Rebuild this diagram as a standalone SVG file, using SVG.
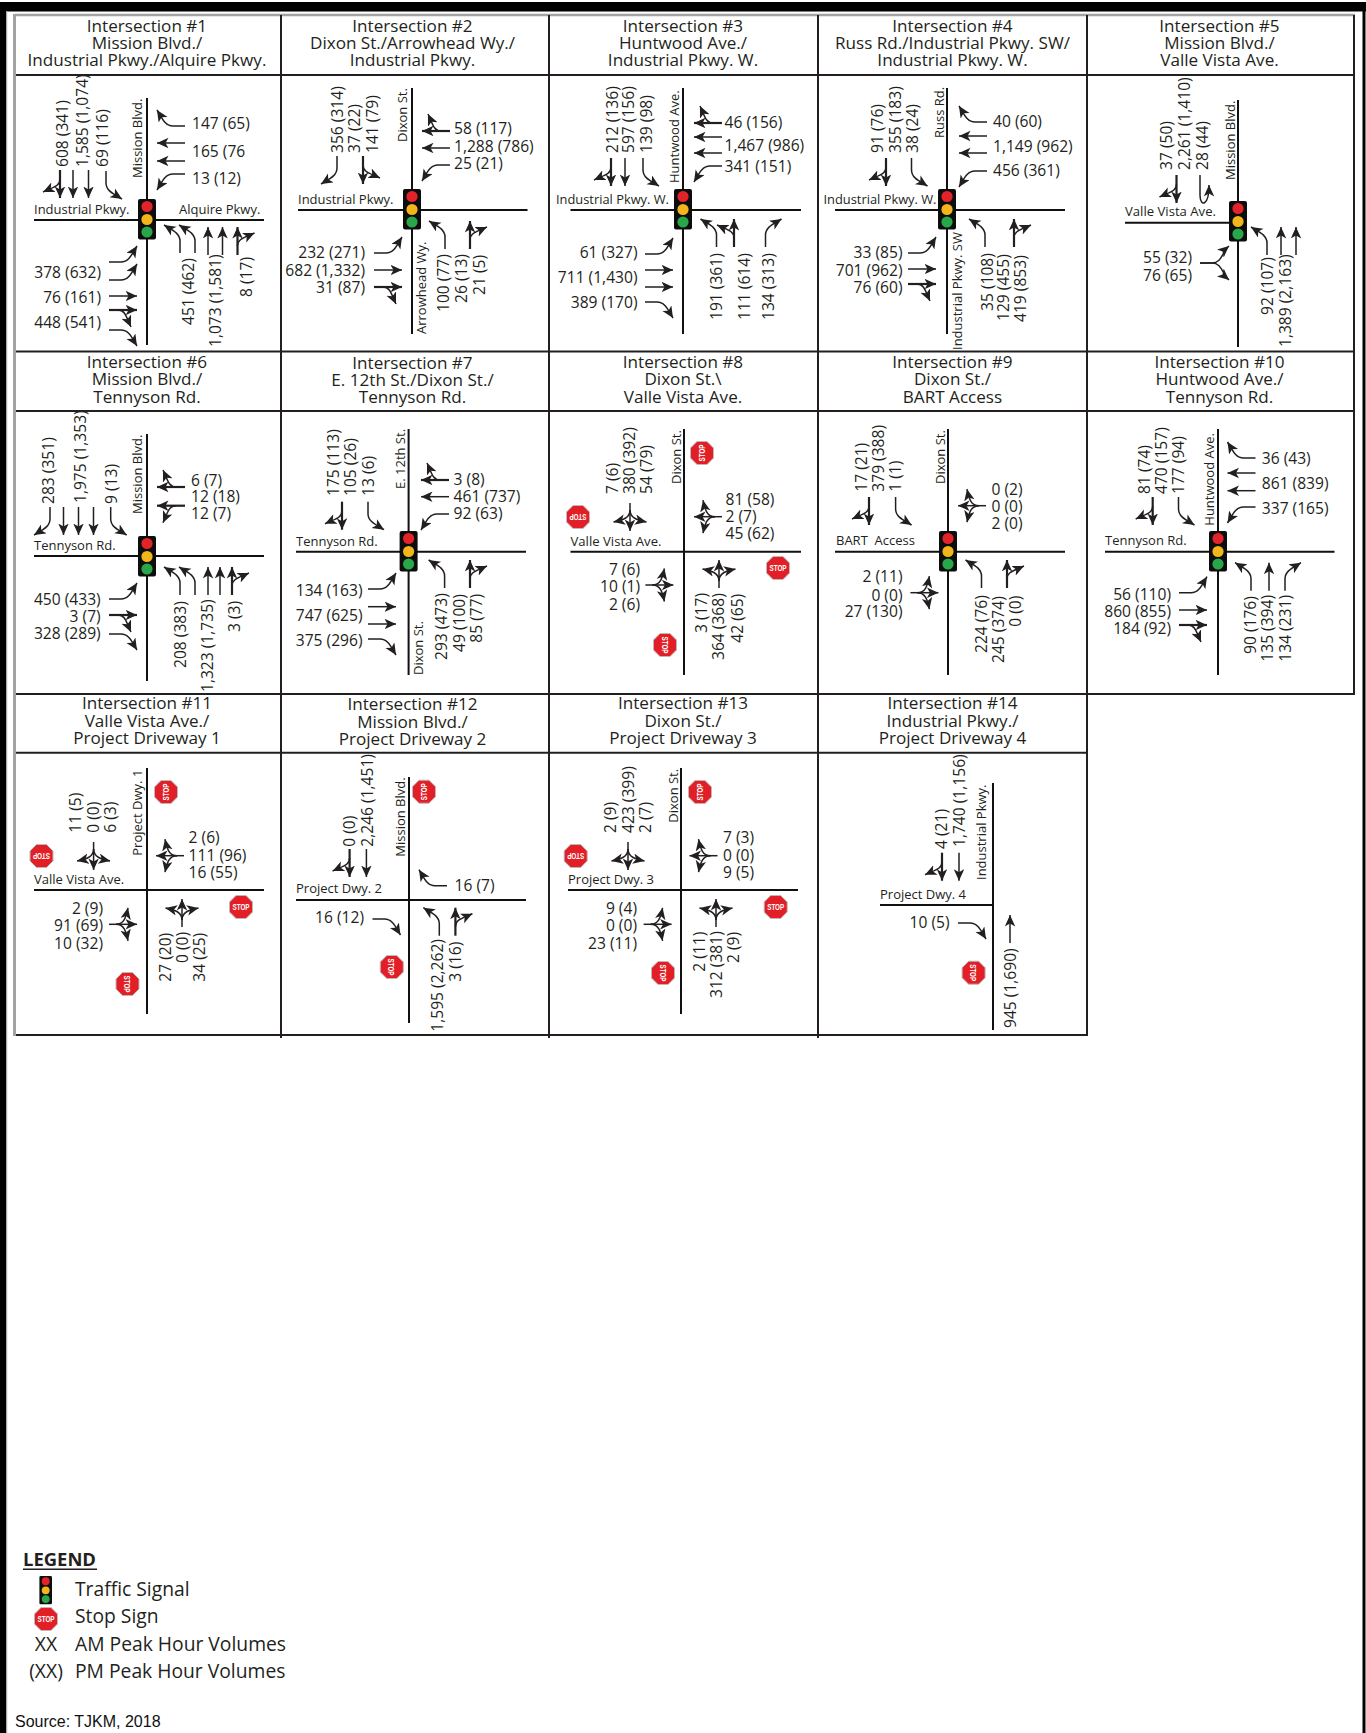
<svg xmlns="http://www.w3.org/2000/svg" width="1366" height="1733" viewBox="0 0 1366 1733">
<style>
text{font-family:"Open Sans","Noto Sans",sans-serif;fill:#231f20}
.h{font-size:17.1px;text-anchor:middle}
.n{font-size:15.6px}
.s{font-size:13px}
.e{text-anchor:end}
.m{text-anchor:middle}
.l{font-size:19.3px}
.grid{stroke:#231f20;stroke-width:2;fill:none}
.road{stroke:#111;stroke-width:2;fill:none}
defs path.a,g.ar path{fill:none;stroke:#231f20;stroke-width:1.5;marker-end:url(#h)}
path.b{stroke-width:2.2!important}
.st{font-family:"Liberation Sans Narrow","Liberation Sans",sans-serif;font-size:9px;font-weight:700;fill:#fff;text-anchor:middle}
</style>
<defs>
<marker id="h" markerUnits="userSpaceOnUse" markerWidth="14" markerHeight="14" refX="11.5" refY="5.25" orient="auto"><path d="M11.5,5.25L0,0L3,5.25L0,10.5Z" fill="#231f20"/></marker>
<path id="th" class="a" d="M0,0V-28"/>
<path id="lc" class="a" d="M0,0V-12C0,-20 -8,-23 -16,-28"/>
<path id="rc" class="a" d="M0,0V-12C0,-20 8,-23 16,-28"/>
<g id="tr"><path class="a b" d="M0,0V-28"/><path class="a" d="M0,-9C0,-16 6,-17 17,-22"/></g>
<g id="tl"><path class="a b" d="M0,0V-28"/><path class="a" d="M0,-9C0,-16 -6,-17 -17,-22"/></g>
<g id="x"><path class="a" d="M0,0V-28"/><path class="a" d="M0,-7C0,-15 -7,-17 -16.5,-19"/><path class="a" d="M0,-7C0,-15 7,-17 16.5,-19"/></g>
<g id="fk"><path class="a" d="M0,0V-12C0,-22 -11,-22 -17,-29"/><path class="a" d="M0,0V-12C0,-22 11,-22 17,-29"/></g>
<use id="thE" href="#th" transform="rotate(90)"/><use id="thS" href="#th" transform="rotate(180)"/><use id="thW" href="#th" transform="rotate(-90)"/>
<use id="lcE" href="#lc" transform="rotate(90)"/><use id="lcS" href="#lc" transform="rotate(180)"/><use id="lcW" href="#lc" transform="rotate(-90)"/>
<use id="rcE" href="#rc" transform="rotate(90)"/><use id="rcS" href="#rc" transform="rotate(180)"/><use id="rcW" href="#rc" transform="rotate(-90)"/>
<use id="trE" href="#tr" transform="rotate(90)"/><use id="trS" href="#tr" transform="rotate(180)"/><use id="trW" href="#tr" transform="rotate(-90)"/>
<use id="tlW" href="#tl" transform="rotate(-90)"/><use id="tlS" href="#tl" transform="rotate(180)"/>
<use id="xE" href="#x" transform="rotate(90)"/><use id="xS" href="#x" transform="rotate(180)"/><use id="xW" href="#x" transform="rotate(-90)"/>
<use id="fkE" href="#fk" transform="rotate(90)"/>
<g id="sig"><rect x="-9" y="-20" width="18" height="40.5" rx="2" fill="#0d0d0d"/><circle cy="-12.5" r="5.6" fill="#e2232a"/><circle cy="0.5" r="5.6" fill="#f2b51c"/><circle cy="13" r="5.6" fill="#2aa64a"/></g>
<g id="stop"><path d="M-5,-11.5H5L11.5,-5V5L5,11.5H-5L-11.5,5V-5Z" fill="#e21f26" stroke="#b9b9b9" stroke-width="1"/><text class="st" y="3.3" textLength="17" lengthAdjust="spacingAndGlyphs">STOP</text></g>
</defs>
<rect width="1366" height="1733" fill="#fff"/>
<g id="frame">
<rect x="0" y="2" width="1366" height="9.5" fill="#000"/>
<rect x="0" y="2" width="6" height="1731" fill="#000"/>
<rect x="1362.5" y="2" width="3" height="1731" fill="#000"/>
<rect x="6" y="11" width="1.2" height="1722" fill="#aaa"/>
</g>
<g id="grid">
<path d="M14.5,15H1355" stroke="#a3a3a3" stroke-width="2.4" fill="none"/>
<path d="M14.5,14V1036" stroke="#a3a3a3" stroke-width="3" fill="none"/>
<path class="grid" d="M1354,15V694M281,15V1038M549,15V1038M818,15V1038M1087,15V1036"/>
<path class="grid" d="M16,75H1354M16,351.5H1354M16,411H1354M16,694H1355M16,752.7H1087M16,1035H1088"/>
</g>
<g id="int1">
<text class="h"><tspan x="147" y="32">Intersection #1</tspan><tspan x="147" y="49">Mission Blvd./</tspan><tspan x="147" y="66">Industrial Pkwy./Alquire Pkwy.</tspan></text>
<path class="road" d="M147,98V345M34,220H264"/><use href="#sig" x="147" y="219"/>
<text class="s" transform="translate(142 178) rotate(-90)">Mission Blvd.</text>
<text class="s" x="34" y="214">Industrial Pkwy.</text><text class="s" x="179" y="214">Alquire Pkwy.</text>
<text class="n" transform="translate(68 167) rotate(-90)">608 (341)</text>
<text class="n" transform="translate(88 167) rotate(-90)">1,585 (1,074)</text>
<text class="n" transform="translate(107.5 167) rotate(-90)">69 (116)</text>
<text class="n" x="192" y="129">147 (65)</text><text class="n" x="192" y="157">165 (76</text><text class="n" x="192" y="184">13 (12)</text>
<text class="n e" x="101" y="278">378 (632)</text><text class="n e" x="101" y="303">76 (161)</text><text class="n e" x="101" y="328">448 (541)</text>
<text class="n" transform="translate(193.5 325) rotate(-90)">451 (462)</text>
<text class="n" transform="translate(221 347) rotate(-90)">1,073 (1,581)</text>
<text class="n" transform="translate(252 297) rotate(-90)">8 (17)</text>
</g>
<g id="int2">
<text class="h"><tspan x="412.5" y="32">Intersection #2</tspan><tspan x="412.5" y="49">Dixon St./Arrowhead Wy./</tspan><tspan x="412.5" y="66">Industrial Pkwy.</tspan></text>
<path class="road" d="M412,88V334M298,210H527.5"/><use href="#sig" x="412" y="209"/>
<text class="s" transform="translate(406.5 142) rotate(-90)">Dixon St.</text>
<text class="s" x="298" y="204">Industrial Pkwy.</text>
<text class="s" transform="translate(426 334) rotate(-90)">Arrowhead Wy.</text>
<text class="n" transform="translate(343 153) rotate(-90)">356 (314)</text>
<text class="n" transform="translate(360 153) rotate(-90)">37 (22)</text>
<text class="n" transform="translate(378 153) rotate(-90)">141 (79)</text>
<text class="n" x="454" y="134">58 (117)</text><text class="n" x="454" y="151.5">1,288 (786)</text><text class="n" x="454" y="169">25 (21)</text>
<text class="n e" x="365" y="258">232 (271)</text><text class="n e" x="365" y="276">682 (1,332)</text><text class="n e" x="365" y="293">31 (87)</text>
<text class="n" transform="translate(449 312) rotate(-90)">100 (77)</text>
<text class="n" transform="translate(467 303) rotate(-90)">26 (13)</text>
<text class="n" transform="translate(485 295) rotate(-90)">21 (5)</text>
</g>
<g id="int3">
<text class="h"><tspan x="683" y="32">Intersection #3</tspan><tspan x="683" y="49">Huntwood Ave./</tspan><tspan x="683" y="66">Industrial Pkwy. W.</tspan></text>
<path class="road" d="M683,88V334M570.5,210H801"/><use href="#sig" x="683" y="209"/>
<text class="s" transform="translate(679 183) rotate(-90)">Huntwood Ave.</text>
<text class="s" x="556" y="204" textLength="113" lengthAdjust="spacingAndGlyphs">Industrial Pkwy. W.</text>
<text class="n" transform="translate(617.5 153) rotate(-90)">212 (136)</text>
<text class="n" transform="translate(634 153) rotate(-90)">597 (156)</text>
<text class="n" transform="translate(652 153) rotate(-90)">139 (98)</text>
<text class="n" x="724.5" y="128">46 (156)</text><text class="n" x="724.5" y="151">1,467 (986)</text><text class="n" x="724.5" y="172">341 (151)</text>
<text class="n e" x="637.5" y="258">61 (327)</text><text class="n e" x="637.5" y="283">711 (1,430)</text><text class="n e" x="637.5" y="308">389 (170)</text>
<text class="n" transform="translate(722 320) rotate(-90)">191 (361)</text>
<text class="n" transform="translate(750 320) rotate(-90)">111 (614)</text>
<text class="n" transform="translate(773.5 320) rotate(-90)">134 (313)</text>
</g>
<g id="int4">
<text class="h"><tspan x="952.5" y="32">Intersection #4</tspan><tspan x="952.5" y="49">Russ Rd./Industrial Pkwy. SW/</tspan><tspan x="952.5" y="66">Industrial Pkwy. W.</tspan></text>
<path class="road" d="M947,88V334M835,210H1065"/><use href="#sig" x="947" y="209"/>
<text class="s" transform="translate(944 138) rotate(-90)">Russ Rd.</text>
<text class="s" x="823.5" y="204" textLength="113" lengthAdjust="spacingAndGlyphs">Industrial Pkwy. W.</text>
<text class="s" transform="translate(961.5 350) rotate(-90)">Industrial Pkwy. SW</text>
<text class="n" transform="translate(882.5 153) rotate(-90)">91 (76)</text>
<text class="n" transform="translate(901 153) rotate(-90)">355 (183)</text>
<text class="n" transform="translate(918 153) rotate(-90)">38 (24)</text>
<text class="n" x="993" y="127">40 (60)</text><text class="n" x="993" y="152">1,149 (962)</text><text class="n" x="993" y="176">456 (361)</text>
<text class="n e" x="902.5" y="258">33 (85)</text><text class="n e" x="902.5" y="276">701 (962)</text><text class="n e" x="902.5" y="293">76 (60)</text>
<text class="n" transform="translate(993 311) rotate(-90)">35 (108)</text>
<text class="n" transform="translate(1009 321) rotate(-90)">129 (455)</text>
<text class="n" transform="translate(1026 322) rotate(-90)">419 (853)</text>
</g>
<g id="int5">
<text class="h"><tspan x="1219.5" y="32">Intersection #5</tspan><tspan x="1219.5" y="49">Mission Blvd./</tspan><tspan x="1219.5" y="66">Valle Vista Ave.</tspan></text>
<path class="road" d="M1238,100V347M1125,222.7H1238"/><use href="#sig" x="1238" y="221"/>
<text class="s" transform="translate(1235 180) rotate(-90)">Mission Blvd.</text>
<text class="s" x="1125" y="216" textLength="91" lengthAdjust="spacingAndGlyphs">Valle Vista Ave.</text>
<text class="n" transform="translate(1172 170) rotate(-90)">37 (50)</text>
<text class="n" transform="translate(1189.5 170) rotate(-90)">2,261 (1,410)</text>
<text class="n" transform="translate(1207.5 170) rotate(-90)">28 (44)</text>
<text class="n e" x="1192" y="263">55 (32)</text><text class="n e" x="1192" y="280.5">76 (65)</text>
<text class="n" transform="translate(1273 315) rotate(-90)">92 (107)</text>
<text class="n" transform="translate(1291 347) rotate(-90)">1,389 (2,163)</text>
</g>
<g id="int6">
<text class="h"><tspan x="147" y="368">Intersection #6</tspan><tspan x="147" y="385">Mission Blvd./</tspan><tspan x="147" y="403">Tennyson Rd.</tspan></text>
<path class="road" d="M147,434V681M34,556H264"/><use href="#sig" x="147" y="556"/>
<text class="s" transform="translate(142 514) rotate(-90)">Mission Blvd.</text>
<text class="s" x="34" y="550">Tennyson Rd.</text>
<text class="n" transform="translate(53.5 504) rotate(-90)">283 (351)</text>
<text class="n" transform="translate(86 503) rotate(-90)">1,975 (1,353)</text>
<text class="n" transform="translate(117 504) rotate(-90)">9 (13)</text>
<text class="n" x="191" y="485.7">6 (7)</text><text class="n" x="191" y="502.3">12 (18)</text><text class="n" x="191" y="519.3">12 (7)</text>
<text class="n e" x="100.7" y="604.7">450 (433)</text><text class="n e" x="100.7" y="621.7">3 (7)</text><text class="n e" x="100.7" y="639">328 (289)</text>
<text class="n" transform="translate(186 668) rotate(-90)">208 (383)</text>
<text class="n" transform="translate(213 692) rotate(-90)">1,323 (1,735)</text>
<text class="n" transform="translate(240 632) rotate(-90)">3 (3)</text>
</g>
<g id="int7">
<text class="h"><tspan x="412.5" y="369">Intersection #7</tspan><tspan x="412.5" y="386">E. 12th St./Dixon St./</tspan><tspan x="412.5" y="403">Tennyson Rd.</tspan></text>
<path class="road" d="M408.6,429V675M296,551.7H526"/><use href="#sig" x="408.6" y="551"/>
<text class="s" transform="translate(404.6 489) rotate(-90)">E. 12th St.</text>
<text class="s" x="296" y="545.7">Tennyson Rd.</text>
<text class="s" transform="translate(422.5 675) rotate(-90)">Dixon St.</text>
<text class="n" transform="translate(338.6 496) rotate(-90)">175 (113)</text>
<text class="n" transform="translate(356.4 496) rotate(-90)">105 (26)</text>
<text class="n" transform="translate(374 496) rotate(-90)">13 (6)</text>
<text class="n" x="453.6" y="485">3 (8)</text><text class="n" x="453.6" y="502.3">461 (737)</text><text class="n" x="453.6" y="519">92 (63)</text>
<text class="n e" x="362.5" y="595.7">134 (163)</text><text class="n e" x="362.5" y="621">747 (625)</text><text class="n e" x="362.5" y="646">375 (296)</text>
<text class="n" transform="translate(447 660) rotate(-90)">293 (473)</text>
<text class="n" transform="translate(465 652) rotate(-90)">49 (100)</text>
<text class="n" transform="translate(482 642.7) rotate(-90)">85 (77)</text>
</g>
<g id="int8">
<text class="h"><tspan x="683" y="368">Intersection #8</tspan><tspan x="683" y="385">Dixon St.\</tspan><tspan x="683" y="403">Valle Vista Ave.</tspan></text>
<path class="road" d="M684,429V675M570.5,551.7H801"/>
<use href="#stop" transform="translate(702 453) rotate(-90)"/><use href="#stop" transform="translate(578 517) rotate(180)"/><use href="#stop" transform="translate(778 568)"/><use href="#stop" transform="translate(665 645) rotate(90)"/>
<text class="s" transform="translate(680.7 484) rotate(-90)">Dixon St.</text>
<text class="s" x="570.5" y="545.7" textLength="91" lengthAdjust="spacingAndGlyphs">Valle Vista Ave.</text>
<text class="n" transform="translate(617.5 494) rotate(-90)">7 (6)</text>
<text class="n" transform="translate(635 494) rotate(-90)">380 (392)</text>
<text class="n" transform="translate(652 494) rotate(-90)">54 (79)</text>
<text class="n" x="725.5" y="505">81 (58)</text><text class="n" x="725.5" y="522">2 (7)</text><text class="n" x="725.5" y="539">45 (62)</text>
<text class="n e" x="640" y="575">7 (6)</text><text class="n e" x="640" y="592">10 (1)</text><text class="n e" x="640" y="610">2 (6)</text>
<text class="n" transform="translate(707 633) rotate(-90)">3 (17)</text>
<text class="n" transform="translate(724.4 660) rotate(-90)">364 (368)</text>
<text class="n" transform="translate(743 642.7) rotate(-90)">42 (65)</text>
</g>
<g id="int9">
<text class="h"><tspan x="952.5" y="368">Intersection #9</tspan><tspan x="952.5" y="385">Dixon St./</tspan><tspan x="952.5" y="403">BART Access</tspan></text>
<path class="road" d="M948,429V675M835,551.7H1065"/><use href="#sig" x="948" y="551"/>
<text class="s" transform="translate(944.6 484) rotate(-90)">Dixon St.</text>
<text class="s" x="836" y="545" xml:space="preserve">BART  Access</text>
<text class="n" transform="translate(866.6 491.7) rotate(-90)">17 (21)</text>
<text class="n" transform="translate(883.5 491.7) rotate(-90)">379 (388)</text>
<text class="n" transform="translate(901 491.7) rotate(-90)">1 (1)</text>
<text class="n" x="991.5" y="495">0 (2)</text><text class="n" x="991.5" y="512.3">0 (0)</text><text class="n" x="991.5" y="529">2 (0)</text>
<text class="n e" x="902.5" y="582">2 (11)</text><text class="n e" x="902.5" y="600.7">0 (0)</text><text class="n e" x="902.5" y="617">27 (130)</text>
<text class="n" transform="translate(986.8 653) rotate(-90)">224 (76)</text>
<text class="n" transform="translate(1003.6 663) rotate(-90)">245 (374)</text>
<text class="n" transform="translate(1021 626.7) rotate(-90)">0 (0)</text>
</g>
<g id="int10">
<text class="h"><tspan x="1219.5" y="368">Intersection #10</tspan><tspan x="1219.5" y="385">Huntwood Ave./</tspan><tspan x="1219.5" y="403">Tennyson Rd.</tspan></text>
<path class="road" d="M1218,429V675M1105,551.7H1334.5"/><use href="#sig" x="1218" y="551"/>
<text class="s" transform="translate(1214.4 525.7) rotate(-90)">Huntwood Ave.</text>
<text class="s" x="1105" y="545">Tennyson Rd.</text>
<text class="n" transform="translate(1150 494) rotate(-90)">81 (74)</text>
<text class="n" transform="translate(1167 494) rotate(-90)">470 (157)</text>
<text class="n" transform="translate(1184 494) rotate(-90)">177 (94)</text>
<text class="n" x="1261.8" y="464">36 (43)</text><text class="n" x="1261.8" y="489">861 (839)</text><text class="n" x="1261.8" y="514">337 (165)</text>
<text class="n e" x="1171" y="600">56 (110)</text><text class="n e" x="1171" y="617">860 (855)</text><text class="n e" x="1171" y="634">184 (92)</text>
<text class="n" transform="translate(1255.5 654) rotate(-90)">90 (176)</text>
<text class="n" transform="translate(1273.4 661.7) rotate(-90)">135 (394)</text>
<text class="n" transform="translate(1290.8 661.7) rotate(-90)">134 (231)</text>
</g>
<g id="int11">
<text class="h"><tspan x="147" y="709">Intersection #11</tspan><tspan x="147" y="727">Valle Vista Ave./</tspan><tspan x="147" y="744">Project Driveway 1</tspan></text>
<path class="road" d="M147,768V1014M34,890H264"/>
<use href="#stop" transform="translate(166 792) rotate(-90)"/><use href="#stop" transform="translate(41.5 856) rotate(180)"/><use href="#stop" transform="translate(241 907)"/><use href="#stop" transform="translate(127.5 984) rotate(90)"/>
<text class="s" transform="translate(142 855.7) rotate(-90)">Project Dwy. 1</text>
<text class="s" x="34" y="884">Valle Vista Ave.</text>
<text class="n" transform="translate(81.4 832.7) rotate(-90)">11 (5)</text>
<text class="n" transform="translate(99 832.7) rotate(-90)">0 (0)</text>
<text class="n" transform="translate(116.4 832.7) rotate(-90)">6 (3)</text>
<text class="n" x="188.6" y="843">2 (6)</text><text class="n" x="188.6" y="861">111 (96)</text><text class="n" x="188.6" y="878">16 (55)</text>
<text class="n e" x="103" y="914">2 (9)</text><text class="n e" x="103" y="931.3">91 (69)</text><text class="n e" x="103" y="949">10 (32)</text>
<text class="n" transform="translate(170.7 981.7) rotate(-90)">27 (20)</text>
<text class="n" transform="translate(188 963) rotate(-90)">0 (0)</text>
<text class="n" transform="translate(205 981.7) rotate(-90)">34 (25)</text>
</g>
<g id="int12">
<text class="h"><tspan x="412.5" y="710">Intersection #12</tspan><tspan x="412.5" y="728">Mission Blvd./</tspan><tspan x="412.5" y="745">Project Driveway 2</tspan></text>
<path class="road" d="M409,777V1023M296,900H526"/>
<use href="#stop" transform="translate(424 791.7) rotate(-90)"/><use href="#stop" transform="translate(391.8 967) rotate(90)"/>
<text class="s" transform="translate(405 856.7) rotate(-90)">Mission Blvd.</text>
<text class="s" x="296" y="893.3">Project Dwy. 2</text>
<text class="n" transform="translate(355.4 846.7) rotate(-90)">0 (0)</text>
<text class="n" transform="translate(372.5 846.7) rotate(-90)">2,246 (1,451)</text>
<text class="n" x="454.6" y="890.7">16 (7)</text>
<text class="n e" x="364" y="923">16 (12)</text>
<text class="n" transform="translate(443 1031.7) rotate(-90)">1,595 (2,262)</text>
<text class="n" transform="translate(460.7 981.7) rotate(-90)">3 (16)</text>
</g>
<g id="int13">
<text class="h"><tspan x="683" y="709">Intersection #13</tspan><tspan x="683" y="727">Dixon St./</tspan><tspan x="683" y="744">Project Driveway 3</tspan></text>
<path class="road" d="M681,768V1014M568,890H798"/>
<use href="#stop" transform="translate(700 792) rotate(-90)"/><use href="#stop" transform="translate(575.7 856) rotate(180)"/><use href="#stop" transform="translate(775.7 907)"/><use href="#stop" transform="translate(663 973) rotate(90)"/>
<text class="s" transform="translate(677.5 822.7) rotate(-90)">Dixon St.</text>
<text class="s" x="568" y="884">Project Dwy. 3</text>
<text class="n" transform="translate(616.4 833) rotate(-90)">2 (9)</text>
<text class="n" transform="translate(633.6 833) rotate(-90)">423 (399)</text>
<text class="n" transform="translate(650.7 833) rotate(-90)">2 (7)</text>
<text class="n" x="723" y="843">7 (3)</text><text class="n" x="723" y="861">0 (0)</text><text class="n" x="723" y="878">9 (5)</text>
<text class="n e" x="637" y="914">9 (4)</text><text class="n e" x="637" y="931.3">0 (0)</text><text class="n e" x="637" y="949">23 (11)</text>
<text class="n" transform="translate(705 971.7) rotate(-90)">2 (11)</text>
<text class="n" transform="translate(722 998) rotate(-90)">312 (381)</text>
<text class="n" transform="translate(739 963) rotate(-90)">2 (9)</text>
</g>
<g id="int14">
<text class="h"><tspan x="952.5" y="709">Intersection #14</tspan><tspan x="952.5" y="727">Industrial Pkwy./</tspan><tspan x="952.5" y="744">Project Driveway 4</tspan></text>
<path class="road" d="M993,783V1030M880,905H993"/>
<use href="#stop" transform="translate(973.6 972.7) rotate(90)"/>
<text class="s" transform="translate(986.4 880) rotate(-90)">Industrial Pkwy.</text>
<text class="s" x="880" y="899.3">Project Dwy. 4</text>
<text class="n" transform="translate(947 849) rotate(-90)">4 (21)</text>
<text class="n" transform="translate(965 847) rotate(-90)">1,740 (1,156)</text>
<text class="n e" x="949.6" y="928">10 (5)</text>
<text class="n" transform="translate(1015.7 1028) rotate(-90)">945 (1,690)</text>
</g>
<g id="connectors" class="ar">
<g id="arrows1"><use href="#trS" x="60" y="170"/><use href="#thS" x="73" y="170"/><use href="#thS" x="88.5" y="170"/><use href="#lcS" x="106" y="171"/>
<use href="#rcW" x="185" y="126"/><use href="#thW" x="185" y="143"/><use href="#thW" x="185" y="161"/><use href="#lcW" x="185" y="174"/>
<use href="#lcE" x="109" y="262"/><use href="#lcE" x="109" y="280"/><use href="#thE" x="109" y="296"/><use href="#trE" x="109" y="310"/><use href="#rcE" x="109" y="330"/>
<use href="#lc" x="180" y="253"/><use href="#lc" x="195" y="253"/><use href="#th" x="208" y="255"/><use href="#th" x="222.5" y="255"/><use href="#tr" x="237.5" y="255"/></g>
<g id="arrows2"><use href="#rcS" x="337" y="156"/><use href="#tlS" x="363" y="156"/>
<use href="#trW" x="450" y="131"/><use href="#thW" x="450" y="148"/><use href="#lcW" x="450" y="165"/>
<use href="#lcE" x="374" y="253"/><use href="#thE" x="374" y="270"/><use href="#trE" x="374" y="287"/>
<use href="#lc" x="445" y="249"/><use href="#tr" x="470" y="249"/></g>
<g id="arrows3"><use href="#trS" x="611" y="158"/><use href="#thS" x="625" y="158"/><use href="#lcS" x="643" y="158"/>
<use href="#trW" x="722" y="123"/><use href="#thW" x="722" y="137"/><use href="#thW" x="722" y="153"/><use href="#lcW" x="722" y="166"/>
<use href="#lcE" x="645" y="254"/><use href="#thE" x="645" y="270"/><use href="#thE" x="645" y="287"/><use href="#rcE" x="645" y="302"/>
<use href="#lc" x="716.5" y="247"/><use href="#tl" x="734" y="247"/><use href="#rc" x="765.5" y="247"/></g>
<g id="arrows4"><use href="#trS" x="886" y="158"/><use href="#lcS" x="911.5" y="158"/>
<use href="#rcW" x="987" y="122"/><use href="#thW" x="987" y="136"/><use href="#thW" x="987" y="153"/><use href="#lcW" x="987" y="171"/>
<use href="#lcE" x="908" y="253"/><use href="#thE" x="908" y="269"/><use href="#trE" x="908" y="284"/>
<use href="#lc" x="985" y="247"/><use href="#tr" x="1014" y="247"/></g>
<g id="arrows5"><use href="#trS" x="1176.5" y="175"/><path d="M1200,175V195C1200,207 1209,207 1209,185"/>
<use href="#fkE" x="1200" y="263"/>
<use href="#lc" x="1267" y="255"/><use href="#th" x="1281" y="255"/><use href="#th" x="1296" y="255"/></g>
<g id="arrows6"><use href="#rcS" x="50" y="507"/><use href="#thS" x="63.5" y="507"/><use href="#thS" x="78.5" y="507"/><use href="#thS" x="93.5" y="507"/><use href="#lcS" x="110.7" y="507"/>
<use href="#trW" x="185" y="487"/><use href="#tlW" x="185" y="505.7"/>
<use href="#lcE" x="109" y="599"/><use href="#trE" x="109" y="615"/><use href="#rcE" x="109" y="634"/>
<use href="#lc" x="180" y="595"/><use href="#lc" x="195" y="595"/><use href="#th" x="208" y="595"/><use href="#th" x="220" y="595"/><use href="#tr" x="232" y="595"/></g>
<g id="arrows7"><use href="#trS" x="342" y="501.7"/><use href="#lcS" x="368" y="501.7"/>
<use href="#trW" x="449" y="480"/><use href="#thW" x="449" y="496.7"/><use href="#lcW" x="449" y="514"/>
<use href="#lcE" x="368" y="589"/><use href="#thE" x="368" y="606.7"/><use href="#thE" x="368" y="624"/><use href="#rcE" x="368" y="639"/>
<use href="#lc" x="444.6" y="588"/><use href="#tr" x="470" y="588"/></g>
<g id="arrows8"><use href="#xS" x="630" y="503"/><use href="#xW" x="722" y="516.7"/><use href="#xE" x="645.4" y="585"/><use href="#x" x="719" y="588"/></g>
<g id="arrows9"><use href="#trS" x="869" y="497"/><use href="#lcS" x="895.6" y="497"/><use href="#xW" x="986" y="505.7"/><use href="#xE" x="910.4" y="592.7"/>
<use href="#lc" x="981.5" y="588"/><use href="#tr" x="1007" y="588"/></g>
<g id="arrows10"><use href="#trS" x="1152.7" y="497"/><use href="#lcS" x="1178.5" y="497"/>
<use href="#rcW" x="1255.5" y="458"/><use href="#thW" x="1255.5" y="473"/><use href="#thW" x="1255.5" y="490.7"/><use href="#lcW" x="1255.5" y="507"/>
<use href="#lcE" x="1179" y="592.7"/><use href="#thE" x="1179" y="610"/><use href="#trE" x="1179" y="625"/>
<use href="#lc" x="1251" y="590.7"/><use href="#th" x="1269" y="590.7"/><use href="#rc" x="1285" y="590.7"/></g>
<g id="arrows11"><use href="#xS" x="93.6" y="842"/><use href="#xW" x="184" y="855.7"/><use href="#xE" x="109" y="924.3"/><use href="#x" x="182" y="927"/></g>
<g id="arrows12"><use href="#trS" x="349.6" y="849"/><use href="#thS" x="366.4" y="849"/><use href="#rcW" x="447" y="885.7"/><use href="#rcE" x="372.5" y="919"/>
<use href="#lc" x="439.3" y="935.7"/><use href="#tr" x="455.4" y="935.7"/></g>
<g id="arrows13"><use href="#xS" x="628" y="842"/><use href="#xW" x="717.5" y="855.7"/><use href="#xE" x="643.6" y="924.3"/><use href="#x" x="716" y="927"/></g>
<g id="arrows14"><use href="#trS" x="942" y="852.7"/><use href="#thS" x="959" y="852.7"/><use href="#rcE" x="958" y="923"/><use href="#th" x="1010" y="943"/></g>
</g>
<g id="legend">
<text x="23" y="1566" font-size="17.5" font-weight="700" textLength="73" lengthAdjust="spacingAndGlyphs">LEGEND</text>
<path d="M23,1569.2H97" stroke="#231f20" stroke-width="1.5"/>
<use href="#sig" transform="translate(45.7 1590) scale(.7)"/>
<use href="#stop" x="46" y="1619"/>
<text class="l" x="75" y="1596">Traffic Signal</text><text class="l" x="75" y="1623">Stop Sign</text>
<text class="l m" x="46" y="1651">XX</text><text class="l" x="75" y="1651">AM Peak Hour Volumes</text>
<text class="l m" x="46" y="1678">(XX)</text><text class="l" x="75" y="1678">PM Peak Hour Volumes</text>
</g>
<text id="source" x="15" y="1726.7" font-size="16" style="font-family:'Liberation Sans',Arial,sans-serif;fill:#111">Source: TJKM, 2018</text>
</svg>
